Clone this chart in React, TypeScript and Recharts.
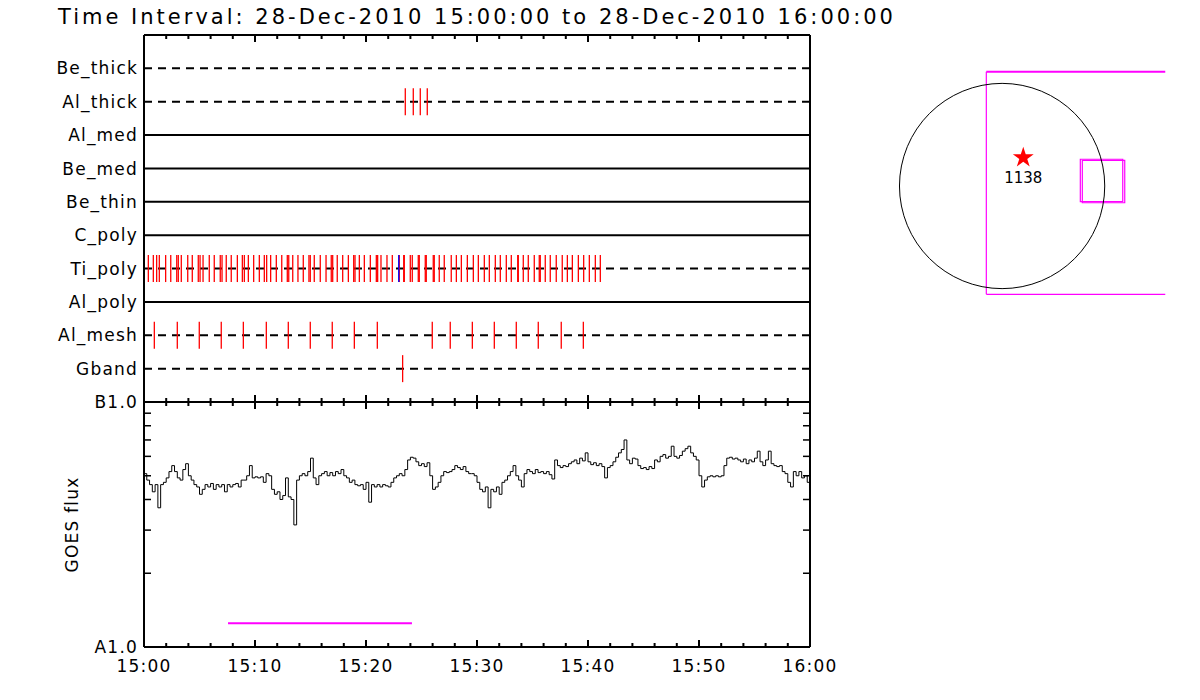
import {
  ComposedChart,
  ScatterChart,
  Scatter,
  Line,
  XAxis,
  YAxis,
  ReferenceLine,
  ReferenceDot,
  ReferenceArea,
  Label,
  Symbols,
} from "recharts";

const FONT = "'DejaVu Sans', sans-serif";

const TITLE = "Time Interval: 28-Dec-2010 15:00:00 to 28-Dec-2010 16:00:00";

// filter rows, top to bottom
const FILTERS = ["Be_thick", "Al_thick", "Al_med", "Be_med", "Be_thin", "C_poly", "Ti_poly", "Al_poly", "Al_mesh", "Gband"];
const DASHED = ["Be_thick", "Al_thick", "Ti_poly", "Al_mesh", "Gband"];

// exposure times in minutes after 15:00
const AL_THICK_EXP = [23.54, 24.26, 24.89, 25.52];
const TI_POLY_EXP = [
  0.39, 0.84, 1.14, 1.38, 1.95, 2.41, 2.95, 3.09, 3.36, 3.94, 4.35, 4.89, 5.05, 5.32, 5.88, 6.33,
  6.87, 7.03, 7.41, 7.86, 8.41, 8.86, 9.04, 9.4, 9.88, 10.39, 10.84, 11.05, 11.41, 11.92, 12.41,
  12.91, 13.04, 13.4, 13.87, 14.35, 14.86, 14.98, 15.34, 15.88, 16.4, 16.87, 17.0, 17.41, 17.9,
  18.41, 18.89, 19.01, 19.4, 19.85, 20.39, 20.93, 21.05, 21.35, 21.89, 22.37, 23.0, 23.4, 23.45,
  23.99, 24.17, 24.71, 24.8, 25.34, 25.43, 26.06, 26.15, 26.6, 27.05, 27.68, 28.14, 28.59, 29.13,
  29.67, 30.12, 30.66, 31.11, 31.65, 32.1, 32.64, 33.09, 33.67, 33.72, 34.17, 34.62, 35.16, 35.61,
  35.7, 36.15, 36.6, 37.14, 37.68, 38.14, 38.59, 39.13, 39.61, 40.12, 40.66, 41.11,
];
const TI_POLY_EXP_BLUE = [22.95];
const AL_MESH_EXP = [
  0.93, 3.0, 4.98, 6.96, 8.95, 11.02, 13.0, 14.98, 16.96, 18.95, 21.02, 25.97, 27.59, 29.58, 31.56,
  33.54, 35.52, 37.59, 39.58,
];
const GBAND_EXP = [23.3];

// time axis
const X_TICKS = [0, 2, 4, 6, 8, 10, 12, 14, 16, 18, 20, 22, 24, 26, 28, 30, 32, 34, 36, 38, 40, 42, 44, 46, 48, 50, 52, 54, 56, 58, 60];
const X_LABELS = ["15:00", "15:10", "15:20", "15:30", "15:40", "15:50", "16:00"];

// GOES flux, units of 1e-8 W/m^2, one value every 15 s from 15:00
const GOES_STEP_MIN = 0.25;
const GOES_FLUX = [
  5.1, 4.8, 4.6, 4.3, 4.6, 3.7, 4.6, 4.7, 4.9, 5.2, 5.5, 5.2, 4.9, 4.8, 5.3, 5.6, 5.0, 4.8, 4.6, 4.5,
  4.2, 4.4, 4.6, 4.5, 4.65, 4.4, 4.6, 4.5, 4.6, 4.3, 4.6, 4.5, 4.6, 4.65, 4.5, 4.8, 4.8, 5.0, 5.5, 4.9,
  4.95, 4.9, 4.95, 4.7, 5.1, 5.0, 4.4, 4.2, 4.3, 4.0, 4.15, 4.9, 4.1, 4.0, 3.15, 4.8, 5.0, 5.1, 5.0, 5.2,
  5.9, 4.9, 4.6, 5.0, 5.1, 5.2, 5.0, 5.15, 5.0, 5.2, 5.1, 5.3, 5.0, 4.9, 4.7, 4.8, 4.6, 4.55, 4.6, 4.4,
  4.7, 3.9, 4.6, 4.5, 4.6, 4.5, 4.6, 4.55, 4.5, 4.7, 4.9, 5.0, 5.1, 5.0, 5.3, 5.8, 5.95, 5.9, 5.7, 5.5,
  5.6, 5.45, 5.65, 5.0, 4.4, 4.5, 4.7, 5.0, 5.2, 5.15, 5.2, 5.3, 5.5, 5.4, 5.3, 5.45, 5.2, 5.1, 5.1, 5.0,
  4.7, 4.4, 4.3, 4.5, 3.7, 4.4, 4.3, 4.5, 4.2, 4.7, 4.8, 5.0, 5.2, 5.5, 5.0, 4.8, 4.5, 5.1, 5.3, 5.2,
  5.1, 5.3, 5.15, 5.2, 5.1, 5.2, 5.05, 4.85, 5.8, 5.5, 5.4, 5.5, 5.45, 5.6, 5.7, 5.8, 5.6, 5.9, 5.75, 6.2,
  5.7, 5.55, 5.65, 5.5, 5.6, 5.45, 4.9, 5.4, 5.5, 5.7, 5.95, 6.2, 6.4, 7.0, 5.8, 5.6, 5.9, 5.85, 5.5, 5.35,
  5.4, 5.3, 5.45, 5.35, 5.8, 5.7, 6.0, 6.1, 5.9, 6.0, 6.6, 6.0, 5.9, 6.05, 6.3, 6.45, 6.6, 6.2, 6.0, 5.8,
  5.0, 4.5, 4.8, 4.95, 5.0, 4.95, 5.0, 4.95, 5.0, 5.5, 5.9, 5.95, 5.85, 5.9, 5.8, 5.7, 5.85, 5.6, 5.8, 5.7,
  5.9, 6.3, 5.7, 5.5, 5.8, 6.3, 5.6, 5.5, 5.45, 5.5, 5.2, 5.1, 4.7, 4.5, 5.2, 5.0, 5.2, 4.9, 5.0, 4.7,
  4.6,
];
const FLUX_TICKS = [1, 2, 3, 4, 5, 6, 7, 8, 9, 10];
const FLUX_LABELS = ["A1.0", "", "", "", "", "", "", "", "", "B1.0"];

// XRT observing interval bar
const XRT_START = 7.57;
const XRT_END = 24.14;
const XRT_LEVEL = 1.25;

// solar context map, arcsec
const SOLAR_RADIUS = 975;
const ARCSEC_PER_PX = 9.5;
const FOV_BIG = { left: -150, right: 1550, top: 1086, bottom: -1029 };
const FOV_SMALL = [
  { x1: 743, x2: 1146, y1: -149, y2: 254 },
  { x1: 762, x2: 1165, y1: -159, y2: 244 },
];
const ACTIVE_REGIONS = [{ x: 201, y: 269, name: "1138" }];

const rowOf = (name: string) => FILTERS.indexOf(name) + 1;

const redTicks = [
  ...AL_THICK_EXP.map((t) => ({ t, row: rowOf("Al_thick") })),
  ...TI_POLY_EXP.map((t) => ({ t, row: rowOf("Ti_poly") })),
  ...AL_MESH_EXP.map((t) => ({ t, row: rowOf("Al_mesh") })),
  ...GBAND_EXP.map((t) => ({ t, row: rowOf("Gband") })),
];
const blueTicks = TI_POLY_EXP_BLUE.map((t) => ({ t, row: rowOf("Ti_poly") }));

const goesData = GOES_FLUX.map((flux, i) => ({ t: i * GOES_STEP_MIN, flux }));

const axisLine = { stroke: "#000", strokeWidth: 2 };

function XTick(props: any) {
  const { x, y, payload, side, labels } = props;
  const major = payload.value % 10 === 0;
  const len = major ? 7 : 4;
  const dir = side === "top" ? 1 : -1;
  return (
    <g>
      <line x1={x} x2={x} y1={y} y2={y + dir * len} stroke="#000" strokeWidth={2} />
      {labels && major && (
        <text x={x} y={y + 25} textAnchor="middle" fontSize={17} letterSpacing={1.2} fontFamily={FONT} fill="#000">
          {X_LABELS[payload.value / 10]}
        </text>
      )}
    </g>
  );
}

function RowTick(props: any) {
  const { x, y, payload } = props;
  return (
    <text x={x - 6} y={y} dy="0.36em" textAnchor="end" fontSize={17} letterSpacing={1.2} fontFamily={FONT} fill="#000">
      {FILTERS[payload.value - 1]}
    </text>
  );
}

function FluxTick(props: any) {
  const { x, y, payload, side } = props;
  const label = FLUX_LABELS[FLUX_TICKS.indexOf(payload.value)];
  const dir = side === "left" ? 1 : -1;
  return (
    <g>
      {!label && <line x1={x} x2={x + dir * 7} y1={y} y2={y} stroke="#000" strokeWidth={1.5} />}
      {label && side === "left" && (
        <text x={x - 6} y={y} dy="0.36em" textAnchor="end" fontSize={17} letterSpacing={1.2} fontFamily={FONT} fill="#000">
          {label}
        </text>
      )}
    </g>
  );
}

function ExposureMark(props: any) {
  const { cx, cy, color } = props;
  return <line x1={cx} x2={cx} y1={cy - 13.5} y2={cy + 13.5} stroke={color} strokeWidth={1.3} />;
}

function ArMarker(props: any) {
  const { cx, cy, payload } = props;
  return (
    <g>
      <Symbols cx={cx} cy={cy} type="star" size={135} fill="#ff0000" />
      <text x={cx} y={cy + 25} textAnchor="middle" fontSize={15} fontFamily={FONT} fill="#000">
        {payload.name}
      </text>
    </g>
  );
}

function FilterPanel() {
  return (
    <ScatterChart width={830} height={410} margin={{ top: 34, right: 19, bottom: 7, left: 0 }}>
      <XAxis xAxisId="b" type="number" dataKey="t" domain={[0, 60]} ticks={X_TICKS} interval={0} height={1}
        tickSize={0} tickMargin={0} axisLine={axisLine} tick={(p: any) => <XTick {...p} side="bottom" />} allowDataOverflow />
      <XAxis xAxisId="t" orientation="top" type="number" dataKey="t" domain={[0, 60]} ticks={X_TICKS} interval={0} height={1}
        tickSize={0} tickMargin={0} axisLine={axisLine} tick={(p: any) => <XTick {...p} side="top" />} allowDataOverflow />
      <YAxis yAxisId="l" type="number" dataKey="row" domain={[0, FILTERS.length + 1]} reversed
        ticks={FILTERS.map((_, i) => i + 1)} interval={0} width={144} tickSize={0} tickMargin={0}
        axisLine={axisLine} tick={RowTick} />
      <YAxis yAxisId="r" orientation="right" type="number" dataKey="row" domain={[0, FILTERS.length + 1]} reversed
        width={1} tick={false} tickSize={0} axisLine={axisLine} />
      {FILTERS.map((f, i) => (
        <ReferenceLine key={f} xAxisId="b" yAxisId="l" y={i + 1} stroke="#000" strokeWidth={2}
          strokeDasharray={DASHED.includes(f) ? "8 6" : undefined} />
      ))}
      <Scatter xAxisId="b" yAxisId="l" data={redTicks} shape={(p: any) => <ExposureMark {...p} color="#ff0000" />} isAnimationActive={false} />
      <Scatter xAxisId="b" yAxisId="l" data={blueTicks} shape={(p: any) => <ExposureMark {...p} color="#0000ff" />} isAnimationActive={false} />
    </ScatterChart>
  );
}

function GoesPanel() {
  return (
    <ComposedChart width={860} height={320} data={goesData} margin={{ top: 21, right: 49, bottom: 52, left: 0 }}>
      <XAxis xAxisId="b" type="number" dataKey="t" domain={[0, 60]} ticks={X_TICKS} interval={0} height={1}
        tickSize={0} tickMargin={0} axisLine={axisLine} tick={(p: any) => <XTick {...p} side="bottom" labels />} allowDataOverflow />
      <XAxis xAxisId="t" orientation="top" type="number" dataKey="t" domain={[0, 60]} ticks={X_TICKS} interval={0} height={1}
        tickSize={0} tickMargin={0} axisLine={axisLine} tick={(p: any) => <XTick {...p} side="top" />} allowDataOverflow />
      <YAxis yAxisId="l" type="number" scale="log" domain={[1, 10]} ticks={FLUX_TICKS} interval={0} width={144}
        tickSize={0} tickMargin={0} axisLine={axisLine} tick={(p: any) => <FluxTick {...p} side="left" />} allowDataOverflow>
        <Label value="GOES flux" angle={-90} position="center" fontSize={17} letterSpacing={1.2} fontFamily={FONT} fill="#000" />
      </YAxis>
      <YAxis yAxisId="r" orientation="right" type="number" scale="log" domain={[1, 10]} ticks={FLUX_TICKS} interval={0} width={1}
        tickSize={0} tickMargin={0} axisLine={axisLine} tick={(p: any) => <FluxTick {...p} side="right" />} allowDataOverflow />
      <Line xAxisId="b" yAxisId="l" dataKey="flux" type="stepAfter" stroke="#000" strokeWidth={1} dot={false} isAnimationActive={false} />
      <ReferenceLine xAxisId="b" yAxisId="l" segment={[{ x: XRT_START, y: XRT_LEVEL }, { x: XRT_END, y: XRT_LEVEL }]}
        stroke="#ff00ff" strokeWidth={2} />
    </ComposedChart>
  );
}

function ContextMap() {
  const { left, right, top, bottom } = FOV_BIG;
  return (
    <ScatterChart width={330} height={330} margin={{ top: 16, right: 10, bottom: 14, left: 20 }}>
      <XAxis type="number" dataKey="x" domain={[-1160, 1690]} hide allowDataOverflow />
      <YAxis type="number" dataKey="y" domain={[-1425, 1425]} hide allowDataOverflow />
      <ReferenceDot x={0} y={0} r={SOLAR_RADIUS / ARCSEC_PER_PX} fill="none" stroke="#000" strokeWidth={1} ifOverflow="visible" />
      <ReferenceLine segment={[{ x: left, y: top }, { x: right, y: top }]} stroke="#ff00ff" strokeWidth={2} />
      <ReferenceLine segment={[{ x: left, y: top }, { x: left, y: bottom }]} stroke="#ff00ff" strokeWidth={1.2} />
      <ReferenceLine segment={[{ x: left, y: bottom }, { x: right, y: bottom }]} stroke="#ff00ff" strokeWidth={1.2} />
      {FOV_SMALL.map((r, i) => (
        <ReferenceArea key={i} x1={r.x1} x2={r.x2} y1={r.y1} y2={r.y2} fill="none" stroke="#ff00ff" strokeWidth={1.2} />
      ))}
      <Scatter data={ACTIVE_REGIONS} shape={ArMarker} isAnimationActive={false} />
    </ScatterChart>
  );
}

export default function App() {
  return (
    <div style={{ position: "absolute", left: 0, top: 0, width: 1200, height: 700, background: "#fff", fontFamily: FONT }}>
      <svg width={1200} height={40} style={{ position: "absolute", left: 0, top: 0 }}>
        <text x={58} y={24} fontSize={21} fontFamily={FONT} fill="#000" textLength={835} lengthAdjust="spacing">
          {TITLE}
        </text>
      </svg>
      <div style={{ position: "absolute", left: 0, top: 0 }}>
        <FilterPanel />
      </div>
      <div style={{ position: "absolute", left: 0, top: 380 }}>
        <GoesPanel />
      </div>
      <div style={{ position: "absolute", left: 860, top: 20 }}>
        <ContextMap />
      </div>
    </div>
  );
}
